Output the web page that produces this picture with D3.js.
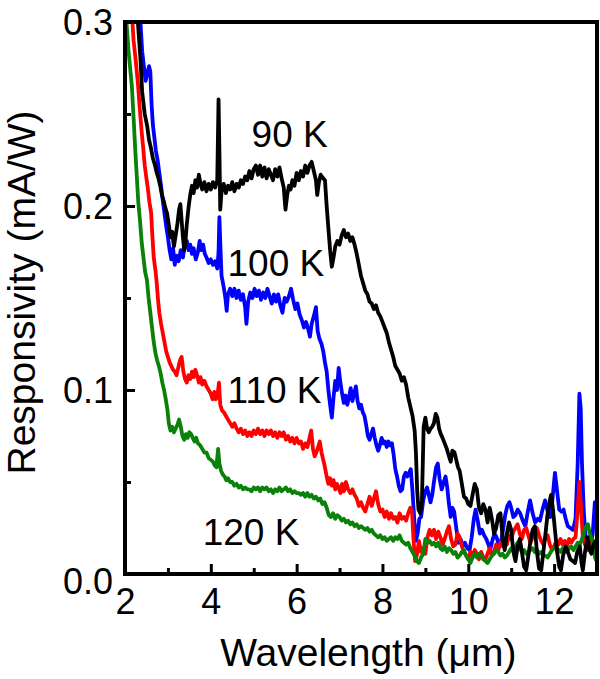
<!DOCTYPE html>
<html>
<head>
<meta charset="utf-8">
<script src="https://cdn.jsdelivr.net/npm/d3@7"></script>
<style>
  html, body { margin: 0; padding: 0; background: #fff; }
  svg { display: block; font-family: "Liberation Sans", Arial, Helvetica, sans-serif; }
</style>
</head>
<body>
<svg id="chart" width="600" height="679"></svg>
<script>
// ---------- data ----------
const xMajorTicks = [2, 4, 6, 8, 10, 12];
const xMinorTicks = [3, 5, 7, 9, 11];
const yMajorTicks = [0.0, 0.1, 0.2, 0.3];
const yMinorTicks = [0.05, 0.15, 0.25];
const xTitle = "Wavelength (\u03bcm)";
const yTitle = "Responsivity (mA/W)";
const seriesNames = ["100 K", "110 K", "120 K", "90 K"];
const seriesColors = ["#0000ff", "#ff0000", "#0a820a", "#000000"];
const labelNames = ["90 K", "100 K", "110 K", "120 K"];
const labelPos = [[4.95, 0.232], [4.39, 0.162], [4.39, 0.093], [3.81, 0.0158]];

const k90 = [[2.20,0.330],[2.30,0.300],[2.36,0.280],[2.40,0.262],[2.46,0.250],[2.52,0.243],[2.56,0.236],[2.60,0.232],[2.65,0.226],[2.70,0.222],[2.74,0.218],[2.78,0.215],[2.82,0.211],[2.86,0.206],[2.90,0.203],[2.94,0.199],[2.98,0.196],[3.02,0.190],[3.06,0.183],[3.10,0.186],[3.14,0.178],[3.18,0.184],[3.22,0.190],[3.26,0.198],[3.29,0.201],[3.32,0.192],[3.35,0.183],[3.38,0.176],[3.41,0.181],[3.44,0.190],[3.48,0.199],[3.52,0.206],[3.56,0.211],[3.60,0.207],[3.64,0.214],[3.68,0.210],[3.72,0.217],[3.76,0.212],[3.80,0.209],[3.85,0.213],[3.90,0.208],[3.95,0.212],[4.00,0.209],[4.05,0.213],[4.10,0.210],[4.15,0.214],[4.18,0.258],[4.20,0.230],[4.22,0.198],[4.25,0.208],[4.30,0.212],[4.35,0.207],[4.40,0.211],[4.45,0.209],[4.50,0.213],[4.55,0.208],[4.60,0.212],[4.65,0.210],[4.70,0.214],[4.75,0.212],[4.80,0.216],[4.85,0.214],[4.90,0.219],[4.95,0.215],[5.00,0.220],[5.05,0.222],[5.10,0.217],[5.15,0.222],[5.20,0.216],[5.25,0.221],[5.30,0.215],[5.35,0.220],[5.40,0.217],[5.45,0.214],[5.50,0.220],[5.55,0.216],[5.60,0.221],[5.65,0.215],[5.70,0.210],[5.74,0.198],[5.78,0.206],[5.82,0.211],[5.86,0.209],[5.90,0.214],[5.95,0.211],[6.00,0.218],[6.05,0.214],[6.10,0.219],[6.15,0.216],[6.20,0.222],[6.25,0.218],[6.30,0.222],[6.35,0.224],[6.40,0.219],[6.45,0.214],[6.48,0.206],[6.52,0.213],[6.56,0.217],[6.62,0.215],[6.66,0.214],[6.70,0.200],[6.74,0.188],[6.78,0.176],[6.82,0.167],[6.86,0.172],[6.90,0.178],[6.95,0.181],[7.00,0.179],[7.05,0.184],[7.10,0.187],[7.15,0.183],[7.20,0.185],[7.25,0.181],[7.30,0.183],[7.35,0.179],[7.40,0.174],[7.45,0.168],[7.50,0.162],[7.55,0.158],[7.60,0.154],[7.65,0.152],[7.70,0.148],[7.75,0.147],[7.80,0.144],[7.85,0.146],[7.90,0.142],[7.95,0.140],[8.00,0.137],[8.05,0.134],[8.10,0.131],[8.15,0.126],[8.20,0.122],[8.25,0.118],[8.30,0.113],[8.35,0.111],[8.40,0.109],[8.45,0.105],[8.50,0.107],[8.55,0.103],[8.60,0.096],[8.65,0.091],[8.70,0.086],[8.75,0.078],[8.78,0.066],[8.81,0.045],[8.84,0.035],[8.88,0.033],[8.92,0.040],[8.96,0.080],[9.00,0.085],[9.04,0.079],[9.08,0.077],[9.12,0.079],[9.16,0.080],[9.20,0.082],[9.24,0.087],[9.28,0.085],[9.32,0.079],[9.36,0.076],[9.40,0.074],[9.45,0.071],[9.50,0.068],[9.55,0.064],[9.59,0.061],[9.63,0.067],[9.68,0.066],[9.72,0.062],[9.76,0.058],[9.80,0.056],[9.85,0.049],[9.90,0.042],[9.95,0.041],[10.00,0.038],[10.05,0.037],[10.10,0.043],[10.15,0.049],[10.20,0.046],[10.25,0.036],[10.30,0.033],[10.35,0.038],[10.40,0.035],[10.45,0.028],[10.50,0.036],[10.55,0.030],[10.60,0.022],[10.65,0.025],[10.70,0.032],[10.75,0.033],[10.80,0.020],[10.85,0.013],[10.90,0.022],[10.95,0.028],[11.00,0.024],[11.05,0.012],[11.10,0.007],[11.15,0.015],[11.20,0.019],[11.25,0.012],[11.30,0.004],[11.35,0.002],[11.40,0.010],[11.45,0.018],[11.50,0.024],[11.55,0.026],[11.60,0.012],[11.65,0.003],[11.70,0.002],[11.75,0.012],[11.80,0.022],[11.85,0.033],[11.90,0.040],[11.93,0.043],[11.97,0.036],[12.02,0.024],[12.07,0.012],[12.12,0.004],[12.16,0.002],[12.21,0.010],[12.27,0.015],[12.32,0.012],[12.38,0.008],[12.44,0.007],[12.49,0.006],[12.54,0.012],[12.60,0.015],[12.64,0.006],[12.67,0.002],[12.72,0.012],[12.78,0.020],[12.83,0.013],[12.87,0.011],[12.92,0.016],[12.97,0.018],[13.00,0.015]];

const k100 = [[2.30,0.320],[2.36,0.300],[2.40,0.284],[2.44,0.276],[2.48,0.268],[2.52,0.272],[2.56,0.276],[2.59,0.273],[2.62,0.255],[2.65,0.244],[2.68,0.238],[2.72,0.230],[2.76,0.225],[2.80,0.218],[2.84,0.211],[2.88,0.203],[2.92,0.196],[2.96,0.189],[3.00,0.183],[3.04,0.176],[3.08,0.171],[3.12,0.177],[3.16,0.168],[3.20,0.173],[3.25,0.170],[3.30,0.176],[3.35,0.172],[3.40,0.180],[3.44,0.181],[3.48,0.176],[3.52,0.179],[3.56,0.174],[3.60,0.177],[3.65,0.171],[3.70,0.175],[3.74,0.181],[3.78,0.176],[3.82,0.179],[3.86,0.174],[3.90,0.172],[3.95,0.169],[4.00,0.171],[4.05,0.168],[4.10,0.170],[4.15,0.166],[4.18,0.175],[4.20,0.194],[4.22,0.180],[4.25,0.162],[4.30,0.156],[4.34,0.150],[4.37,0.143],[4.40,0.152],[4.45,0.155],[4.50,0.151],[4.55,0.155],[4.60,0.150],[4.65,0.154],[4.70,0.149],[4.75,0.152],[4.80,0.145],[4.83,0.136],[4.87,0.148],[4.92,0.153],[4.97,0.150],[5.02,0.155],[5.07,0.151],[5.12,0.154],[5.17,0.149],[5.22,0.153],[5.27,0.150],[5.32,0.155],[5.37,0.151],[5.42,0.147],[5.47,0.152],[5.52,0.148],[5.57,0.152],[5.62,0.146],[5.67,0.142],[5.72,0.150],[5.77,0.148],[5.82,0.151],[5.87,0.155],[5.92,0.149],[5.97,0.144],[6.02,0.147],[6.07,0.141],[6.12,0.138],[6.17,0.134],[6.22,0.137],[6.27,0.133],[6.31,0.129],[6.35,0.136],[6.40,0.140],[6.45,0.145],[6.49,0.132],[6.53,0.128],[6.58,0.125],[6.62,0.121],[6.66,0.115],[6.70,0.110],[6.74,0.100],[6.78,0.092],[6.82,0.085],[6.86,0.096],[6.90,0.105],[6.94,0.100],[6.98,0.112],[7.02,0.104],[7.06,0.098],[7.10,0.093],[7.14,0.097],[7.18,0.092],[7.22,0.096],[7.26,0.101],[7.30,0.094],[7.34,0.098],[7.38,0.102],[7.42,0.094],[7.46,0.090],[7.50,0.092],[7.54,0.088],[7.58,0.086],[7.62,0.081],[7.66,0.075],[7.70,0.073],[7.74,0.076],[7.78,0.079],[7.82,0.074],[7.86,0.070],[7.90,0.067],[7.94,0.070],[7.98,0.074],[8.02,0.071],[8.06,0.072],[8.10,0.069],[8.14,0.072],[8.18,0.070],[8.22,0.071],[8.26,0.065],[8.30,0.057],[8.34,0.053],[8.38,0.048],[8.42,0.045],[8.46,0.046],[8.50,0.053],[8.54,0.055],[8.58,0.053],[8.62,0.055],[8.66,0.057],[8.70,0.045],[8.74,0.030],[8.78,0.018],[8.82,0.022],[8.86,0.030],[8.90,0.031],[8.95,0.040],[9.00,0.045],[9.04,0.047],[9.08,0.043],[9.12,0.039],[9.16,0.043],[9.20,0.050],[9.25,0.058],[9.29,0.060],[9.33,0.052],[9.38,0.046],[9.43,0.050],[9.47,0.053],[9.51,0.047],[9.55,0.038],[9.59,0.031],[9.63,0.036],[9.67,0.034],[9.72,0.025],[9.77,0.017],[9.82,0.019],[9.87,0.015],[9.92,0.017],[9.98,0.014],[10.03,0.013],[10.08,0.020],[10.13,0.030],[10.17,0.035],[10.22,0.029],[10.27,0.022],[10.32,0.024],[10.37,0.021],[10.42,0.019],[10.47,0.016],[10.51,0.013],[10.56,0.018],[10.61,0.022],[10.66,0.020],[10.71,0.016],[10.76,0.017],[10.81,0.024],[10.86,0.032],[10.91,0.037],[10.96,0.039],[11.00,0.036],[11.05,0.031],[11.10,0.032],[11.15,0.035],[11.21,0.033],[11.27,0.029],[11.33,0.026],[11.38,0.033],[11.44,0.040],[11.50,0.033],[11.56,0.028],[11.62,0.030],[11.67,0.029],[11.73,0.035],[11.79,0.040],[11.85,0.034],[11.91,0.031],[11.96,0.040],[12.02,0.055],[12.07,0.045],[12.12,0.035],[12.17,0.034],[12.22,0.035],[12.27,0.030],[12.32,0.026],[12.38,0.025],[12.44,0.024],[12.50,0.030],[12.55,0.060],[12.59,0.098],[12.62,0.090],[12.65,0.060],[12.69,0.035],[12.74,0.017],[12.79,0.015],[12.84,0.013],[12.90,0.022],[12.95,0.039],[13.00,0.030]];

const k110 = [[2.10,0.330],[2.16,0.305],[2.20,0.290],[2.25,0.279],[2.30,0.267],[2.34,0.254],[2.39,0.240],[2.43,0.230],[2.46,0.222],[2.50,0.215],[2.53,0.210],[2.57,0.202],[2.61,0.196],[2.64,0.183],[2.67,0.172],[2.71,0.165],[2.74,0.158],[2.77,0.149],[2.80,0.142],[2.84,0.136],[2.88,0.131],[2.92,0.126],[2.96,0.121],[3.00,0.118],[3.04,0.115],[3.08,0.113],[3.12,0.111],[3.16,0.110],[3.20,0.108],[3.24,0.112],[3.28,0.116],[3.32,0.118],[3.36,0.110],[3.40,0.106],[3.44,0.104],[3.48,0.108],[3.52,0.106],[3.56,0.110],[3.60,0.107],[3.64,0.111],[3.68,0.108],[3.72,0.104],[3.76,0.107],[3.80,0.103],[3.85,0.105],[3.90,0.102],[3.95,0.100],[4.00,0.098],[4.04,0.095],[4.08,0.099],[4.12,0.095],[4.16,0.098],[4.19,0.104],[4.22,0.092],[4.26,0.089],[4.30,0.088],[4.35,0.086],[4.40,0.084],[4.45,0.082],[4.50,0.080],[4.55,0.082],[4.60,0.079],[4.65,0.077],[4.70,0.079],[4.75,0.076],[4.80,0.078],[4.85,0.075],[4.90,0.077],[4.95,0.075],[5.00,0.078],[5.05,0.076],[5.10,0.079],[5.15,0.076],[5.20,0.078],[5.25,0.075],[5.30,0.078],[5.35,0.076],[5.40,0.078],[5.45,0.075],[5.50,0.077],[5.55,0.074],[5.60,0.077],[5.65,0.075],[5.70,0.077],[5.75,0.073],[5.80,0.075],[5.85,0.072],[5.90,0.074],[5.95,0.071],[6.00,0.074],[6.05,0.071],[6.10,0.072],[6.15,0.068],[6.20,0.071],[6.25,0.069],[6.30,0.074],[6.34,0.078],[6.38,0.068],[6.42,0.064],[6.46,0.066],[6.50,0.069],[6.54,0.072],[6.58,0.066],[6.62,0.062],[6.66,0.058],[6.70,0.053],[6.74,0.049],[6.78,0.052],[6.82,0.048],[6.86,0.051],[6.90,0.046],[6.94,0.049],[6.98,0.047],[7.02,0.044],[7.06,0.049],[7.10,0.045],[7.15,0.050],[7.20,0.046],[7.25,0.044],[7.30,0.046],[7.35,0.043],[7.40,0.041],[7.45,0.037],[7.50,0.039],[7.55,0.036],[7.60,0.034],[7.65,0.038],[7.70,0.042],[7.75,0.037],[7.80,0.041],[7.85,0.045],[7.90,0.038],[7.95,0.034],[8.00,0.035],[8.05,0.031],[8.10,0.034],[8.15,0.030],[8.20,0.033],[8.25,0.030],[8.30,0.031],[8.35,0.028],[8.40,0.033],[8.45,0.030],[8.50,0.031],[8.55,0.029],[8.60,0.033],[8.65,0.036],[8.69,0.034],[8.72,0.020],[8.76,0.007],[8.80,0.010],[8.85,0.018],[8.90,0.012],[8.95,0.014],[9.00,0.011],[9.05,0.020],[9.10,0.024],[9.15,0.021],[9.20,0.024],[9.25,0.019],[9.30,0.023],[9.35,0.020],[9.40,0.016],[9.45,0.019],[9.50,0.023],[9.55,0.026],[9.60,0.019],[9.65,0.015],[9.70,0.016],[9.75,0.022],[9.80,0.020],[9.85,0.015],[9.90,0.012],[9.95,0.010],[10.00,0.008],[10.05,0.012],[10.10,0.010],[10.15,0.013],[10.20,0.011],[10.25,0.008],[10.30,0.012],[10.35,0.009],[10.40,0.008],[10.45,0.011],[10.50,0.014],[10.55,0.010],[10.60,0.012],[10.65,0.016],[10.70,0.013],[10.75,0.017],[10.80,0.015],[10.85,0.019],[10.90,0.016],[10.95,0.021],[11.00,0.019],[11.05,0.023],[11.10,0.025],[11.15,0.027],[11.20,0.022],[11.25,0.019],[11.30,0.024],[11.35,0.025],[11.40,0.021],[11.45,0.017],[11.50,0.020],[11.55,0.024],[11.60,0.025],[11.65,0.021],[11.70,0.018],[11.75,0.016],[11.80,0.020],[11.85,0.021],[11.90,0.016],[11.95,0.013],[12.00,0.015],[12.05,0.018],[12.10,0.016],[12.15,0.019],[12.20,0.016],[12.25,0.018],[12.30,0.015],[12.35,0.019],[12.40,0.017],[12.45,0.019],[12.50,0.020],[12.55,0.035],[12.59,0.050],[12.63,0.035],[12.67,0.020],[12.72,0.016],[12.77,0.013],[12.82,0.016],[12.87,0.019],[12.92,0.014],[12.97,0.008],[13.00,0.010]];

const k120 = [[2.00,0.310],[2.04,0.298],[2.08,0.285],[2.12,0.275],[2.16,0.265],[2.20,0.248],[2.24,0.230],[2.28,0.214],[2.31,0.202],[2.35,0.192],[2.39,0.180],[2.43,0.172],[2.47,0.164],[2.51,0.160],[2.55,0.150],[2.59,0.142],[2.63,0.134],[2.67,0.126],[2.71,0.120],[2.75,0.116],[2.79,0.113],[2.83,0.109],[2.87,0.104],[2.91,0.100],[2.95,0.095],[2.99,0.089],[3.02,0.082],[3.06,0.078],[3.10,0.080],[3.14,0.077],[3.18,0.079],[3.22,0.081],[3.26,0.084],[3.30,0.080],[3.34,0.075],[3.38,0.073],[3.42,0.076],[3.46,0.074],[3.50,0.077],[3.54,0.076],[3.58,0.074],[3.62,0.072],[3.66,0.074],[3.70,0.071],[3.75,0.070],[3.80,0.068],[3.85,0.066],[3.90,0.066],[3.95,0.063],[4.00,0.062],[4.05,0.061],[4.09,0.059],[4.13,0.058],[4.17,0.068],[4.20,0.060],[4.24,0.056],[4.28,0.054],[4.32,0.053],[4.36,0.051],[4.40,0.052],[4.45,0.050],[4.50,0.050],[4.55,0.048],[4.60,0.049],[4.65,0.047],[4.70,0.048],[4.75,0.046],[4.80,0.047],[4.85,0.046],[4.90,0.046],[4.95,0.045],[5.00,0.047],[5.05,0.046],[5.10,0.047],[5.15,0.045],[5.20,0.047],[5.25,0.046],[5.30,0.047],[5.35,0.045],[5.40,0.046],[5.45,0.044],[5.50,0.046],[5.55,0.045],[5.60,0.047],[5.65,0.045],[5.70,0.046],[5.75,0.047],[5.80,0.045],[5.85,0.046],[5.90,0.044],[5.95,0.045],[6.00,0.044],[6.05,0.044],[6.10,0.043],[6.15,0.044],[6.20,0.042],[6.25,0.044],[6.30,0.042],[6.35,0.043],[6.40,0.041],[6.45,0.042],[6.50,0.040],[6.55,0.041],[6.60,0.038],[6.65,0.039],[6.70,0.036],[6.75,0.032],[6.80,0.031],[6.85,0.033],[6.90,0.030],[6.95,0.032],[7.00,0.031],[7.05,0.029],[7.10,0.030],[7.15,0.028],[7.20,0.029],[7.25,0.027],[7.30,0.028],[7.35,0.026],[7.40,0.027],[7.45,0.025],[7.50,0.026],[7.55,0.025],[7.60,0.024],[7.65,0.025],[7.70,0.023],[7.75,0.024],[7.80,0.022],[7.85,0.021],[7.90,0.020],[7.95,0.021],[8.00,0.019],[8.05,0.020],[8.10,0.018],[8.15,0.019],[8.20,0.020],[8.25,0.018],[8.30,0.020],[8.35,0.019],[8.40,0.021],[8.45,0.018],[8.50,0.017],[8.55,0.016],[8.60,0.017],[8.65,0.014],[8.70,0.012],[8.75,0.010],[8.80,0.007],[8.85,0.006],[8.90,0.009],[8.95,0.011],[9.00,0.019],[9.05,0.017],[9.10,0.018],[9.15,0.016],[9.20,0.017],[9.25,0.015],[9.30,0.017],[9.35,0.014],[9.40,0.013],[9.45,0.015],[9.50,0.012],[9.55,0.014],[9.60,0.013],[9.65,0.011],[9.70,0.012],[9.75,0.009],[9.80,0.010],[9.85,0.012],[9.90,0.013],[9.95,0.010],[10.00,0.008],[10.05,0.006],[10.10,0.009],[10.15,0.011],[10.20,0.009],[10.25,0.011],[10.30,0.010],[10.35,0.008],[10.40,0.007],[10.45,0.006],[10.50,0.008],[10.55,0.010],[10.60,0.011],[10.65,0.013],[10.70,0.012],[10.75,0.010],[10.80,0.011],[10.85,0.009],[10.90,0.010],[10.95,0.012],[11.00,0.014],[11.05,0.013],[11.10,0.015],[11.15,0.017],[11.20,0.014],[11.25,0.012],[11.30,0.013],[11.35,0.011],[11.40,0.012],[11.45,0.013],[11.50,0.014],[11.55,0.012],[11.60,0.013],[11.65,0.011],[11.70,0.012],[11.75,0.010],[11.80,0.010],[11.85,0.009],[11.90,0.011],[11.95,0.013],[12.00,0.014],[12.05,0.015],[12.10,0.013],[12.15,0.012],[12.20,0.014],[12.25,0.013],[12.30,0.012],[12.35,0.014],[12.40,0.015],[12.45,0.013],[12.50,0.015],[12.55,0.017],[12.60,0.016],[12.65,0.019],[12.70,0.023],[12.75,0.026],[12.79,0.027],[12.83,0.022],[12.88,0.019],[12.93,0.014],[12.97,0.008],[13.00,0.010]];

const seriesData = [k100, k110, k120, k90];

// ---------- layout ----------
const W = 600, H = 679;
const margin = { left: 125, right: 3, top: 22, bottom: 105 };
const pw = W - margin.left - margin.right;
const ph = H - margin.top - margin.bottom;

const svg = d3.select("#chart");
const x = d3.scaleLinear().domain([2, 13]).range([margin.left, margin.left + pw]);
const y = d3.scaleLinear().domain([0, 0.3]).range([margin.top + ph, margin.top]);

svg.append("defs").append("clipPath").attr("id", "plotClip")
  .append("rect").attr("x", margin.left).attr("y", margin.top)
  .attr("width", pw).attr("height", ph);

// ---------- series ----------
const line = d3.line().x(d => x(d[0])).y(d => y(d[1]));
const gLines = svg.append("g").attr("clip-path", "url(#plotClip)");
seriesData.forEach((s, i) => {
  gLines.append("path").datum(s)
    .attr("d", line)
    .attr("fill", "none")
    .attr("stroke", seriesColors[i])
    .attr("stroke-width", 3.8)
    .attr("stroke-linejoin", "round")
    .attr("stroke-linecap", "round");
});

// ---------- axes ----------
const tickFont = 36;
const xAxis = d3.axisBottom(x).tickValues(xMajorTicks).tickSize(-10).tickPadding(14).tickFormat(d3.format("d"));
const gx = svg.append("g").attr("transform", `translate(0,${margin.top + ph})`).call(xAxis);
const xMinor = d3.axisBottom(x).tickValues(xMinorTicks).tickSize(-6).tickFormat("");
const gxm = svg.append("g").attr("transform", `translate(0,${margin.top + ph})`).call(xMinor);

const yAxis = d3.axisLeft(y).tickValues(yMajorTicks).tickSize(-10).tickPadding(12).tickFormat(d3.format(".1f"));
const gy = svg.append("g").attr("transform", `translate(${margin.left},0)`).call(yAxis);
const yMinor = d3.axisLeft(y).tickValues(yMinorTicks).tickSize(-6).tickFormat("");
const gym = svg.append("g").attr("transform", `translate(${margin.left},0)`).call(yMinor);

[gx, gxm, gy, gym].forEach(g => {
  g.select(".domain").remove();
  g.selectAll(".tick line").attr("stroke", "#000").attr("stroke-width", 3);
  g.selectAll(".tick text").attr("fill", "#000")
    .style("font-size", tickFont + "px")
    .style("font-family", '"Liberation Sans", Arial, Helvetica, sans-serif');
});
gx.selectAll(".tick text").attr("dy", "0.72em");
gy.selectAll(".tick text").attr("dy", "0.36em");
gy.selectAll(".tick text").filter(d => d === 0).attr("dy", "0.55em");

// frame
svg.append("rect")
  .attr("x", margin.left).attr("y", margin.top)
  .attr("width", pw).attr("height", ph)
  .attr("fill", "none").attr("stroke", "#000").attr("stroke-width", 4);

// ---------- titles ----------
svg.append("text")
  .attr("x", x(7.67)).attr("y", 666)
  .attr("text-anchor", "middle")
  .style("font-size", "39px")
  .text(xTitle);

svg.append("text")
  .attr("transform", `translate(35,${y(0.153)}) rotate(-90)`)
  .attr("text-anchor", "middle")
  .style("font-size", "39px")
  .text(yTitle);

// ---------- curve labels ----------
labelNames.forEach((t, i) => {
  svg.append("text")
    .attr("x", x(labelPos[i][0])).attr("y", y(labelPos[i][1]))
    .style("font-size", "37px")
    .text(t);
});
</script>
</body>
</html>
